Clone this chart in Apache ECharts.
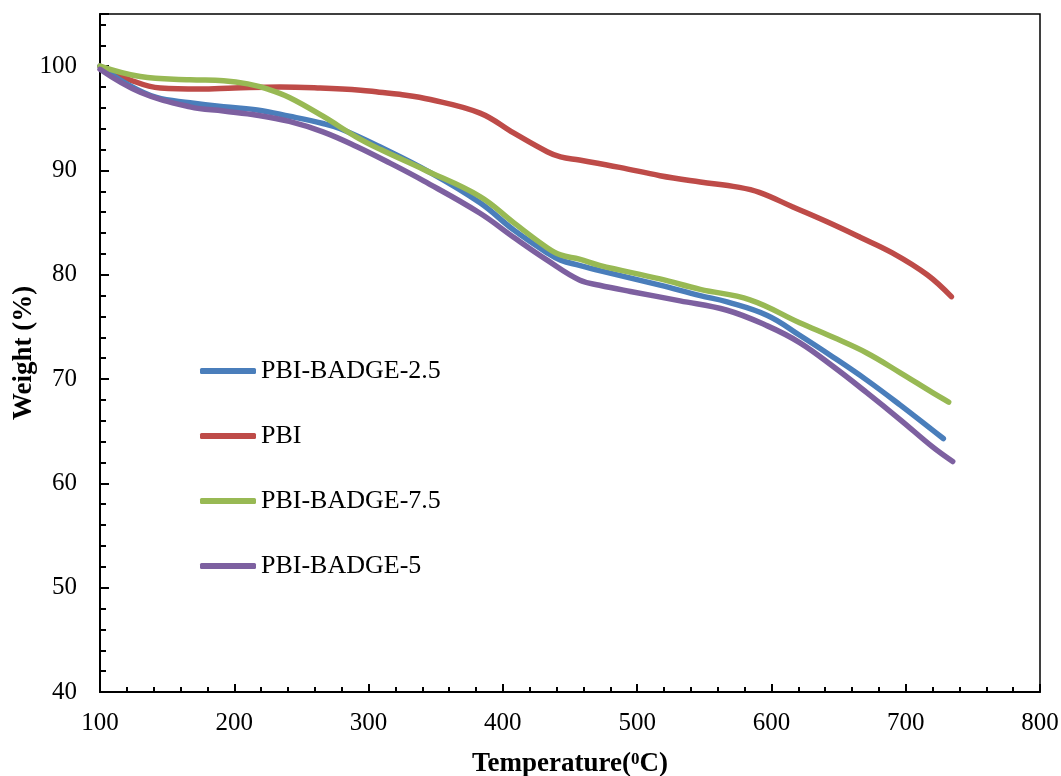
<!DOCTYPE html>
<html>
<head>
<meta charset="utf-8">
<script src="https://cdn.jsdelivr.net/npm/echarts@6/dist/echarts.min.js"></script>
<style>html,body{margin:0;padding:0;background:#fff}#c{width:1061px;height:776px}</style>
</head>
<body>
<div id="c"></div>
<script>
const seriesNames = ['PBI-BADGE-2.5', 'PBI', 'PBI-BADGE-7.5', 'PBI-BADGE-5'];
const colors = ['#4A7EBB', '#BE4B48', '#98B954', '#7D60A0'];

const tBlue = [100, 120, 142, 167, 192, 217, 241, 266, 279, 308, 346, 383, 408, 433, 443, 457, 472, 517, 547, 567, 597, 621, 646, 671, 696, 720, 728];
const wBlue = [100, 98.3, 97.0, 96.5, 96.1, 95.8, 95.2, 94.5, 94.0, 92.3, 89.8, 86.9, 84.3, 82.1, 81.4, 80.9, 80.4, 79.0, 78.0, 77.4, 76.1, 74.2, 72.1, 69.9, 67.5, 65.1, 64.3];

const tRed = [100, 122, 145, 174, 200, 234, 264, 294, 308, 323, 346, 383, 408, 433, 443, 457, 487, 517, 547, 575, 591, 616, 641, 666, 690, 716, 734];
const wRed = [100, 98.7, 97.9, 97.8, 97.9, 98.0, 97.9, 97.7, 97.5, 97.3, 96.8, 95.5, 93.6, 91.8, 91.3, 91.0, 90.3, 89.5, 88.9, 88.4, 87.9, 86.5, 85.1, 83.6, 82.1, 80.0, 77.9];

const tGreen = [100, 130, 167, 192, 210, 225, 241, 266, 291, 309, 341, 383, 408, 433, 443, 457, 472, 517, 547, 584, 621, 646, 671, 696, 720, 732];
const wGreen = [100, 99.0, 98.7, 98.6, 98.3, 97.8, 97.0, 95.2, 93.2, 92.0, 90.1, 87.5, 85.0, 82.6, 81.9, 81.5, 80.9, 79.6, 78.6, 77.6, 75.4, 74.0, 72.5, 70.6, 68.7, 67.8];

const tPurple = [100, 130, 167, 192, 217, 241, 266, 291, 316, 341, 383, 408, 433, 457, 472, 495, 532, 567, 597, 621, 646, 671, 696, 720, 735];
const wPurple = [99.7, 97.5, 96.1, 95.7, 95.3, 94.7, 93.7, 92.3, 90.7, 89.0, 85.9, 83.6, 81.4, 79.5, 79.0, 78.4, 77.5, 76.6, 75.1, 73.5, 71.2, 68.7, 66.1, 63.5, 62.1];

const xTicks = { min: 100, max: 800, interval: 100 };
const yTicks = { min: 40, max: 105, interval: 10 };

const zip = (a, b) => a.map((v, i) => [v, b[i]]);
const dataSets = [zip(tBlue, wBlue), zip(tRed, wRed), zip(tGreen, wGreen), zip(tPurple, wPurple)];

const FONT = '"Liberation Serif", "Times New Roman", serif';
const chart = echarts.init(document.getElementById('c'), null, { renderer: 'canvas' });
chart.setOption({
  animation: false,
  backgroundColor: '#fff',
  textStyle: { fontFamily: FONT, color: '#000' },
  grid: { left: 100, right: 21, top: 14, bottom: 84, containLabel: false, outerBoundsMode: 'none',
    show: true, borderColor: '#000', borderWidth: 1.5 },
  legend: {
    orient: 'vertical', left: 195, top: 353, itemGap: 39,
    itemWidth: 56, itemHeight: 6, icon: 'roundRect',
    textStyle: { fontFamily: FONT, fontSize: 26, color: '#000' },
    data: seriesNames
  },
  xAxis: {
    type: 'value', min: xTicks.min, max: xTicks.max, interval: xTicks.interval,
    name: 'Temperature({s|0}C)', nameLocation: 'middle', nameGap: 59,
    nameTextStyle: { fontFamily: FONT, fontSize: 27, fontWeight: 'bold', color: '#000',
      rich: { s: { fontFamily: FONT, fontSize: 17, fontWeight: 'bold', color: '#000', padding: [0, 0, 10, 0] } } },
    axisLine: { lineStyle: { color: '#000', width: 2 } },
    axisTick: { inside: true, length: 8, lineStyle: { color: '#000', width: 2 } },
    minorTick: { show: true, splitNumber: 5, length: 5, lineStyle: { color: '#000', width: 2 } },
    axisLabel: { fontFamily: FONT, fontSize: 25, color: '#000', margin: 19 },
    splitLine: { show: false }
  },
  yAxis: [{
    type: 'value', min: yTicks.min, max: yTicks.max, interval: 2,
    name: 'Weight (%)', nameLocation: 'middle', nameGap: 62, nameRotate: 90, nameMoveOverlap: false,
    nameTextStyle: { fontFamily: FONT, fontSize: 27, fontWeight: 'bold', color: '#000' },
    axisLine: { lineStyle: { color: '#000', width: 2 } },
    axisTick: { inside: true, length: 6, lineStyle: { color: '#000', width: 2 } },
    axisLabel: { fontFamily: FONT, fontSize: 25, color: '#000', margin: 23, showMaxLabel: false,
      formatter: v => (v % yTicks.interval === 0 ? String(v) : '') },
    splitLine: { show: false }
  }, {
    type: 'value', min: yTicks.min, max: yTicks.max, interval: yTicks.interval, position: 'left', offset: 0,
    axisLine: { show: false },
    axisTick: { inside: true, length: 9, lineStyle: { color: '#000', width: 2 } },
    axisLabel: { show: false },
    splitLine: { show: false }
  }],
  series: dataSets.map((d, i) => ({
    name: seriesNames[i], type: 'line', data: d, yAxisIndex: 0,
    showSymbol: false, symbol: 'none', smooth: 0.4,
    color: colors[i],
    lineStyle: { color: colors[i], width: 5.5, cap: 'round', join: 'round' },
    z: [3, 2, 4, 5][i]
  }))
});
</script>
</body>
</html>
